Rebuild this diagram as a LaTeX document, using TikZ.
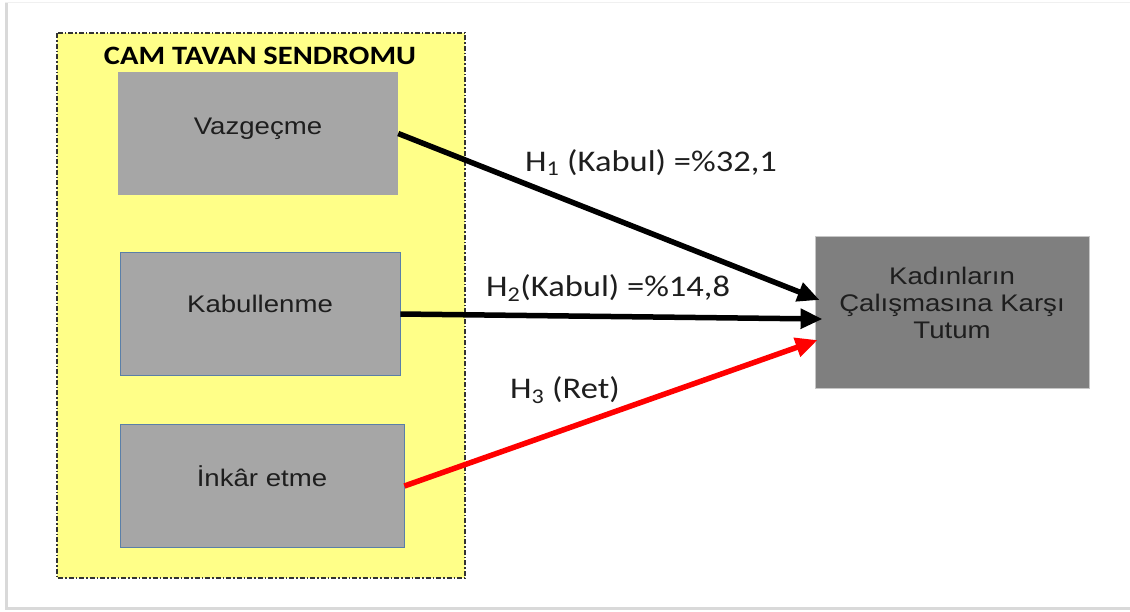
\documentclass[tikz,border=0pt]{standalone}
\usepackage{fontspec}
\setmainfont[FakeStretch=1.15]{Liberation Sans}
\newfontfamily\calib[FakeStretch=1.15]{Carlito}
\usetikzlibrary{arrows.meta}
\definecolor{panelyellow}{HTML}{FFFF88}
\definecolor{boxgray}{HTML}{A6A6A6}
\definecolor{darkgray}{HTML}{7F7F7F}
\definecolor{edgeblue}{HTML}{5A7FA8}
\definecolor{inktext}{HTML}{1E1E1E}
\tikzset{
  dimbox/.style={rectangle, fill=boxgray, minimum width=280pt, minimum height=123pt,
    inner sep=0pt, text height=17pt, text depth=21pt,
    font=\fontsize{24}{27}\selectfont, text=inktext},
  bluebox/.style={dimbox, draw=edgeblue, line width=0.8pt},
  outcome/.style={rectangle, fill=darkgray, draw=gray!45, line width=0.8pt,
    minimum width=274pt, minimum height=152pt, inner sep=0pt,
    font=\fontsize{24}{27}\selectfont, text=inktext},
  link/.style={line width=5.5pt, -{Triangle[length=22pt,width=19pt]}},
  hyp/.style={font=\calib\fontsize{30}{32}\selectfont, text=inktext, inner sep=0pt},
}
\begin{document}
\begin{tikzpicture}[x=1pt,y=-1pt]
\useasboundingbox (0,0) rectangle (1130,611);
% page frame: soft top, left and bottom edges
\draw[gray!12, line width=1.5pt] (5,2.5) -- (1130,2.5);
\draw[gray!30, line width=3pt] (6,3) -- (6,608.5) -- (1130,608.5);
% group panel
\draw[fill=panelyellow, draw=black!80, line width=1.2pt,
      dash pattern=on 5pt off 2pt on 1.5pt off 2pt] (57,33) rectangle (465,578);
\node[font=\calib\bfseries\fontsize{26.5}{28}\selectfont, inner sep=0pt, anchor=base]
  (title) at (260,64) {CAM TAVAN SENDROMU};
% source boxes
\node[dimbox, text depth=15pt] (vaz) at (258,133.5) {Vazgeçme};
\node[bluebox] (kab) at (260,314) {Kabullenme};
\node[bluebox, minimum width=284pt, text depth=17pt] (ink) at (262,486) {İnkâr etme};
% target box
\node[outcome] (tut) at (952,312)
  {\raisebox{0pt}[0pt][0pt]{\begin{tabular}{@{}c@{}}Kadınların\\Çalışmasına Karşı\\Tutum\end{tabular}}};
% hypotheses
\draw[link] (vaz.east) -- ([xshift=5pt,yshift=12pt]tut.west);
\draw[link] (kab.east) -- ([xshift=8pt,yshift=-7pt]tut.west);
\draw[link, red] (ink.east) -- ([xshift=3pt,yshift=-28pt]tut.west);
\node[hyp, anchor=base west] (h1) at (525,171) {H\textsubscript{1} (Kabul) =\%32,1};
\node[hyp, anchor=base west] (h2) at (486,296) {H\textsubscript{2}(Kabul) =\%14,8};
\node[hyp, anchor=base west] (h3) at (510,398) {H\textsubscript{3} (Ret)};
\end{tikzpicture}
\end{document}
